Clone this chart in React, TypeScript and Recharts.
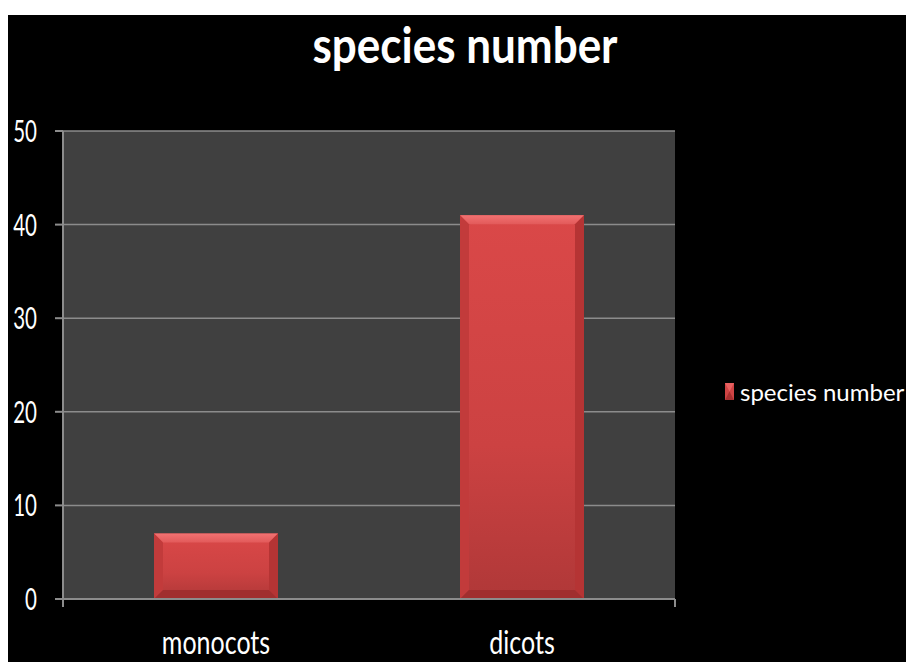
import React from 'react';
import {
  BarChart,
  Bar,
  XAxis,
  YAxis,
  CartesianGrid,
  Legend,
} from 'recharts';

const categories = ['monocots', 'dicots'];
const speciesNumber = [7, 41];
const yTicks = [0, 10, 20, 30, 40, 50];
const seriesName = 'species number';

const data = categories.map((name, i) => ({ name, value: speciesNumber[i] }));

const FONT = 'Lato, "Noto Sans", sans-serif';

const BevelBar = (props: any) => {
  const { x, y, width, height } = props;
  if (!height || height <= 0) return null;
  const b = Math.min(9, height / 3, width / 3);
  return (
    <g>
      <rect x={x} y={y} width={width} height={height} fill="url(#barBody)" />
      <polygon
        points={`${x},${y} ${x + width},${y} ${x + width - b},${y + b} ${x + b},${y + b}`}
        fill="url(#barTop)"
      />
      <polygon
        points={`${x},${y} ${x + b},${y + b} ${x + b},${y + height - b} ${x},${y + height}`}
        fill="#c23b3b"
      />
      <polygon
        points={`${x + width},${y} ${x + width - b},${y + b} ${x + width - b},${y + height - b} ${x + width},${y + height}`}
        fill="#b53434"
      />
      <polygon
        points={`${x},${y + height} ${x + b},${y + height - b} ${x + width - b},${y + height - b} ${x + width},${y + height}`}
        fill="#a02e2e"
      />
    </g>
  );
};

// Excel-style tall text
const YTick = (props: any) => {
  const { x, y, payload } = props;
  return (
    <text
      transform={`translate(${x},${y}) scale(1,1.5)`}
      textAnchor="end"
      dy="0.36em"
      fill="#ffffff"
      fontSize={20.5}
      fontFamily={FONT}
    >
      {payload.value}
    </text>
  );
};

const XTick = (props: any) => {
  const { x, y, payload } = props;
  return (
    <text
      transform={`translate(${x},${y + 45}) scale(1,1.3)`}
      textAnchor="middle"
      fill="#ffffff"
      fontSize={25}
      fontFamily={FONT}
    >
      {payload.value}
    </text>
  );
};

const LegendContent = () => (
  <div style={{ display: 'flex', alignItems: 'center', fontFamily: FONT, fontSize: 24, color: '#ffffff', whiteSpace: 'nowrap' }}>
    <svg width={9} height={17} style={{ marginRight: 6 }}>
      <rect x={0} y={0} width={9} height={17} fill="#cf4444" />
      <polygon points="0,0 9,0 4.5,8.5" fill="#e86060" />
      <polygon points="0,17 9,17 4.5,8.5" fill="#a83030" />
    </svg>
    <span>{seriesName}</span>
  </div>
);

export default function App() {
  return (
    <div style={{ position: 'absolute', left: 8, top: 15, width: 898, height: 647, background: '#000000', overflow: 'hidden' }}>
      <div
        style={{
          position: 'absolute',
          left: 16,
          top: 4,
          width: 882,
          textAlign: 'center',
          fontFamily: FONT,
          fontWeight: 700,
          fontSize: 44,
          lineHeight: '50px',
          color: '#ffffff',
          transform: 'scaleY(1.12)',
        }}
      >
        {seriesName}
      </div>
      <BarChart
        width={898}
        height={647}
        data={data}
        margin={{ top: 116, right: 51, left: 0, bottom: 0 }}
      >
        <defs>
          <linearGradient id="barBody" x1="0" y1="0" x2="0" y2="1">
            <stop offset="0%" stopColor="#da4848" />
            <stop offset="60%" stopColor="#cc4242" />
            <stop offset="100%" stopColor="#b03838" />
          </linearGradient>
          <linearGradient id="barTop" x1="0" y1="0" x2="0" y2="1">
            <stop offset="0%" stopColor="#f27272" />
            <stop offset="100%" stopColor="#e25a5a" />
          </linearGradient>
        </defs>
        <CartesianGrid
          vertical={false}
          fill="#404040"
          stroke="#8c8c8c"
          strokeWidth={1.5}
        />
        <XAxis
          xAxisId="a"
          type="number"
          domain={[0, 2]}
          ticks={[0, 1, 2]}
          tickFormatter={() => ''}
          height={10}
          axisLine={{ stroke: '#8c8c8c', strokeWidth: 2 }}
          tickLine={{ stroke: '#8c8c8c', strokeWidth: 2 }}
          tickSize={8}
        />
        <XAxis
          xAxisId="b"
          dataKey="name"
          height={53}
          axisLine={false}
          tickLine={false}
          tickSize={0}
          tickMargin={0}
          tick={<XTick />}
        />
        <YAxis
          width={55}
          domain={[0, 50]}
          ticks={yTicks}
          interval={0}
          axisLine={{ stroke: '#8c8c8c', strokeWidth: 2 }}
          tickLine={{ stroke: '#8c8c8c', strokeWidth: 2 }}
          tickSize={8}
          tickMargin={18}
          tick={<YTick />}
        />
        <Legend
          layout="vertical"
          verticalAlign="middle"
          align="right"
          content={<LegendContent />}
          wrapperStyle={{ left: 717, top: 362, width: 180 }}
        />
        <Bar
          xAxisId="b"
          dataKey="value"
          name={seriesName}
          barSize={124}
          shape={<BevelBar />}
          isAnimationActive={false}
        />
      </BarChart>
    </div>
  );
}
